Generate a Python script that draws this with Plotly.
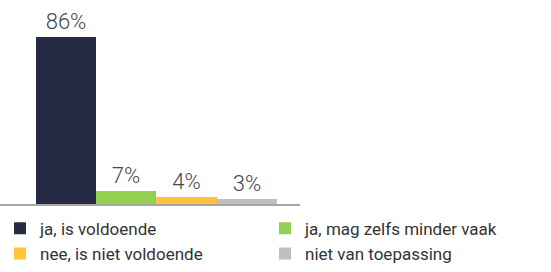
import plotly.graph_objects as go

categories = ["ja, is voldoende", "ja, mag zelfs minder vaak", "nee, is niet voldoende", "niet van toepassing"]
values = [86, 7, 4, 3]
colors = ["#252a45", "#92d050", "#ffc33a", "#bfbfbf"]

fig = go.Figure()
for i, (c, v, col) in enumerate(zip(categories, values, colors)):
    fig.add_trace(go.Bar(
        x=[i], y=[v], name=c,
        marker=dict(color=col, line=dict(width=0)),
        text=[f"{v}%"], textposition="outside",
        textfont=dict(family="Roboto", size=22, color="#454550", weight=300),
        cliponaxis=False,
    ))

W, H = 551, 272
L = 6
PW = W - L
fig.update_layout(
    width=W, height=H,
    margin=dict(l=L, r=0, t=0, b=67),
    barmode="overlay", bargap=0,
    plot_bgcolor="white", paper_bgcolor="white",
    showlegend=True,
    legend=dict(
        orientation="h", x=-L / PW, xanchor="left", y=-0.028, yanchor="top",
        entrywidth=220, entrywidthmode="pixels",
        font=dict(family="Roboto", size=17, color="#333333"),
        itemwidth=30, tracegroupgap=0, bgcolor="rgba(0,0,0,0)",
    ),
    xaxis=dict(range=[-60 / 60.25, 485 / 60.25], showticklabels=False, showgrid=False,
               zeroline=False, showline=False, ticks=""),
    yaxis=dict(range=[0, 105.1], visible=False),
    shapes=[dict(type="line", xref="paper", yref="paper", x0=-L / PW, x1=(300 - L) / PW,
                 y0=0, y1=0, line=dict(color="#a6a6a6", width=2))],
)

fig.write_html("out.html")
